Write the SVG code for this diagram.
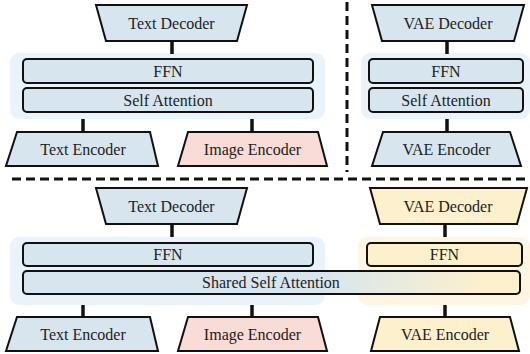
<svg xmlns="http://www.w3.org/2000/svg" width="530" height="354" viewBox="0 0 530 354">
<defs>
<style>
.t{font-family:"Liberation Serif","Times New Roman",serif;font-size:16px;fill:#222;text-anchor:middle;dominant-baseline:central}
.blue{fill:#d7e6ee;stroke:#111;stroke-width:2}
.pink{fill:#f8dcd5;stroke:#111;stroke-width:2}
.yel{fill:#fdf0cd;stroke:#111;stroke-width:2}
.cb{fill:#eaf3fa}
.cy{fill:#fef6e2}
.c{stroke:#111;stroke-width:3.5;fill:none}
.d{stroke:#111;stroke-width:3;stroke-dasharray:9,5;fill:none}
</style>
<linearGradient id="g" x1="23" y1="0" x2="520" y2="0" gradientUnits="userSpaceOnUse">
<stop offset="0" stop-color="#d7e6ee"/>
<stop offset="0.6" stop-color="#d7e6ee"/>
<stop offset="0.93" stop-color="#fdf0cd"/>
<stop offset="1" stop-color="#fdf0cd"/>
</linearGradient>
</defs>
<rect width="530" height="354" fill="#fff"/>

<g id="containers">
<rect id="tl-container" class="cb" x="10" y="53" width="315" height="66" rx="9"/>
<rect id="tr-container" class="cb" x="361" y="53" width="169" height="66" rx="9"/>
<rect id="bl-container" class="cb" x="10" y="237" width="315" height="68" rx="9"/>
<rect id="br-container" class="cy" x="358" y="237" width="172" height="68" rx="9"/>
</g>

<g id="connectors">
<line class="c" x1="172" y1="42" x2="172" y2="54"/>
<line class="c" x1="83" y1="119" x2="83" y2="132"/>
<line class="c" x1="252" y1="119" x2="252" y2="132"/>
<line class="c" x1="447" y1="42" x2="447" y2="54"/>
<line class="c" x1="447" y1="119" x2="447" y2="132"/>
<line class="c" x1="172" y1="225" x2="172" y2="237"/>
<line class="c" x1="83" y1="305" x2="83" y2="317"/>
<line class="c" x1="252" y1="305" x2="252" y2="317"/>
<line class="c" x1="445" y1="225" x2="445" y2="237"/>
<line class="c" x1="445" y1="305" x2="445" y2="317"/>
</g>

<g id="dividers">
<line class="d" x1="347" y1="2" x2="347" y2="172"/>
<line class="d" x1="12" y1="179" x2="530" y2="179"/>
</g>

<g id="tl-text-decoder">
<polygon class="blue" points="96,5 247,5 237,41 106,41"/>
<text class="t" x="171.5" y="23">Text Decoder</text>
</g>
<g id="tl-ffn">
<rect class="blue" x="23" y="59" width="290" height="24" rx="4"/>
<text class="t" x="168" y="71">FFN</text>
</g>
<g id="tl-self-attention">
<rect class="blue" x="23" y="88" width="290" height="24" rx="4"/>
<text class="t" x="168" y="100">Self Attention</text>
</g>
<g id="tl-text-encoder">
<polygon class="blue" points="17,132 150,132 158,166 6,166"/>
<text class="t" x="83" y="149.5">Text Encoder</text>
</g>
<g id="tl-image-encoder">
<polygon class="pink" points="188,132 318,132 327,166 178,166"/>
<text class="t" x="252.5" y="149.5">Image Encoder</text>
</g>

<g id="tr-vae-decoder">
<polygon class="blue" points="372,5 524,5 514,41 382,41"/>
<text class="t" x="448" y="23">VAE Decoder</text>
</g>
<g id="tr-ffn">
<rect class="blue" x="369" y="59" width="154" height="24" rx="4"/>
<text class="t" x="446" y="71">FFN</text>
</g>
<g id="tr-self-attention">
<rect class="blue" x="369" y="88" width="154" height="24" rx="4"/>
<text class="t" x="446" y="100">Self Attention</text>
</g>
<g id="tr-vae-encoder">
<polygon class="blue" points="383,132 510,132 521,166 372,166"/>
<text class="t" x="446.5" y="149.5">VAE Encoder</text>
</g>

<g id="bl-text-decoder">
<polygon class="blue" points="96,188 247,188 237,224 106,224"/>
<text class="t" x="171.5" y="206">Text Decoder</text>
</g>
<g id="bl-ffn">
<rect class="blue" x="23" y="243" width="290" height="23" rx="4"/>
<text class="t" x="168" y="254.5">FFN</text>
</g>
<g id="shared-self-attention">
<rect x="23" y="271" width="497" height="23" rx="4" fill="url(#g)" stroke="#111" stroke-width="2"/>
<text class="t" x="271" y="282.5">Shared Self Attention</text>
</g>
<g id="bl-text-encoder">
<polygon class="blue" points="17,317 150,317 158,351 6,351"/>
<text class="t" x="83" y="334.5">Text Encoder</text>
</g>
<g id="bl-image-encoder">
<polygon class="pink" points="188,317 318,317 327,351 178,351"/>
<text class="t" x="252.5" y="334.5">Image Encoder</text>
</g>

<g id="br-vae-decoder">
<polygon class="yel" points="370,188 527,188 517,224 380,224"/>
<text class="t" x="448" y="206">VAE Decoder</text>
</g>
<g id="br-ffn">
<rect class="yel" x="367" y="243" width="155" height="23" rx="4"/>
<text class="t" x="444.5" y="254.5">FFN</text>
</g>
<g id="br-vae-encoder">
<polygon class="yel" points="380,317 510,317 519,351 371,351"/>
<text class="t" x="445" y="334.5">VAE Encoder</text>
</g>
</svg>
